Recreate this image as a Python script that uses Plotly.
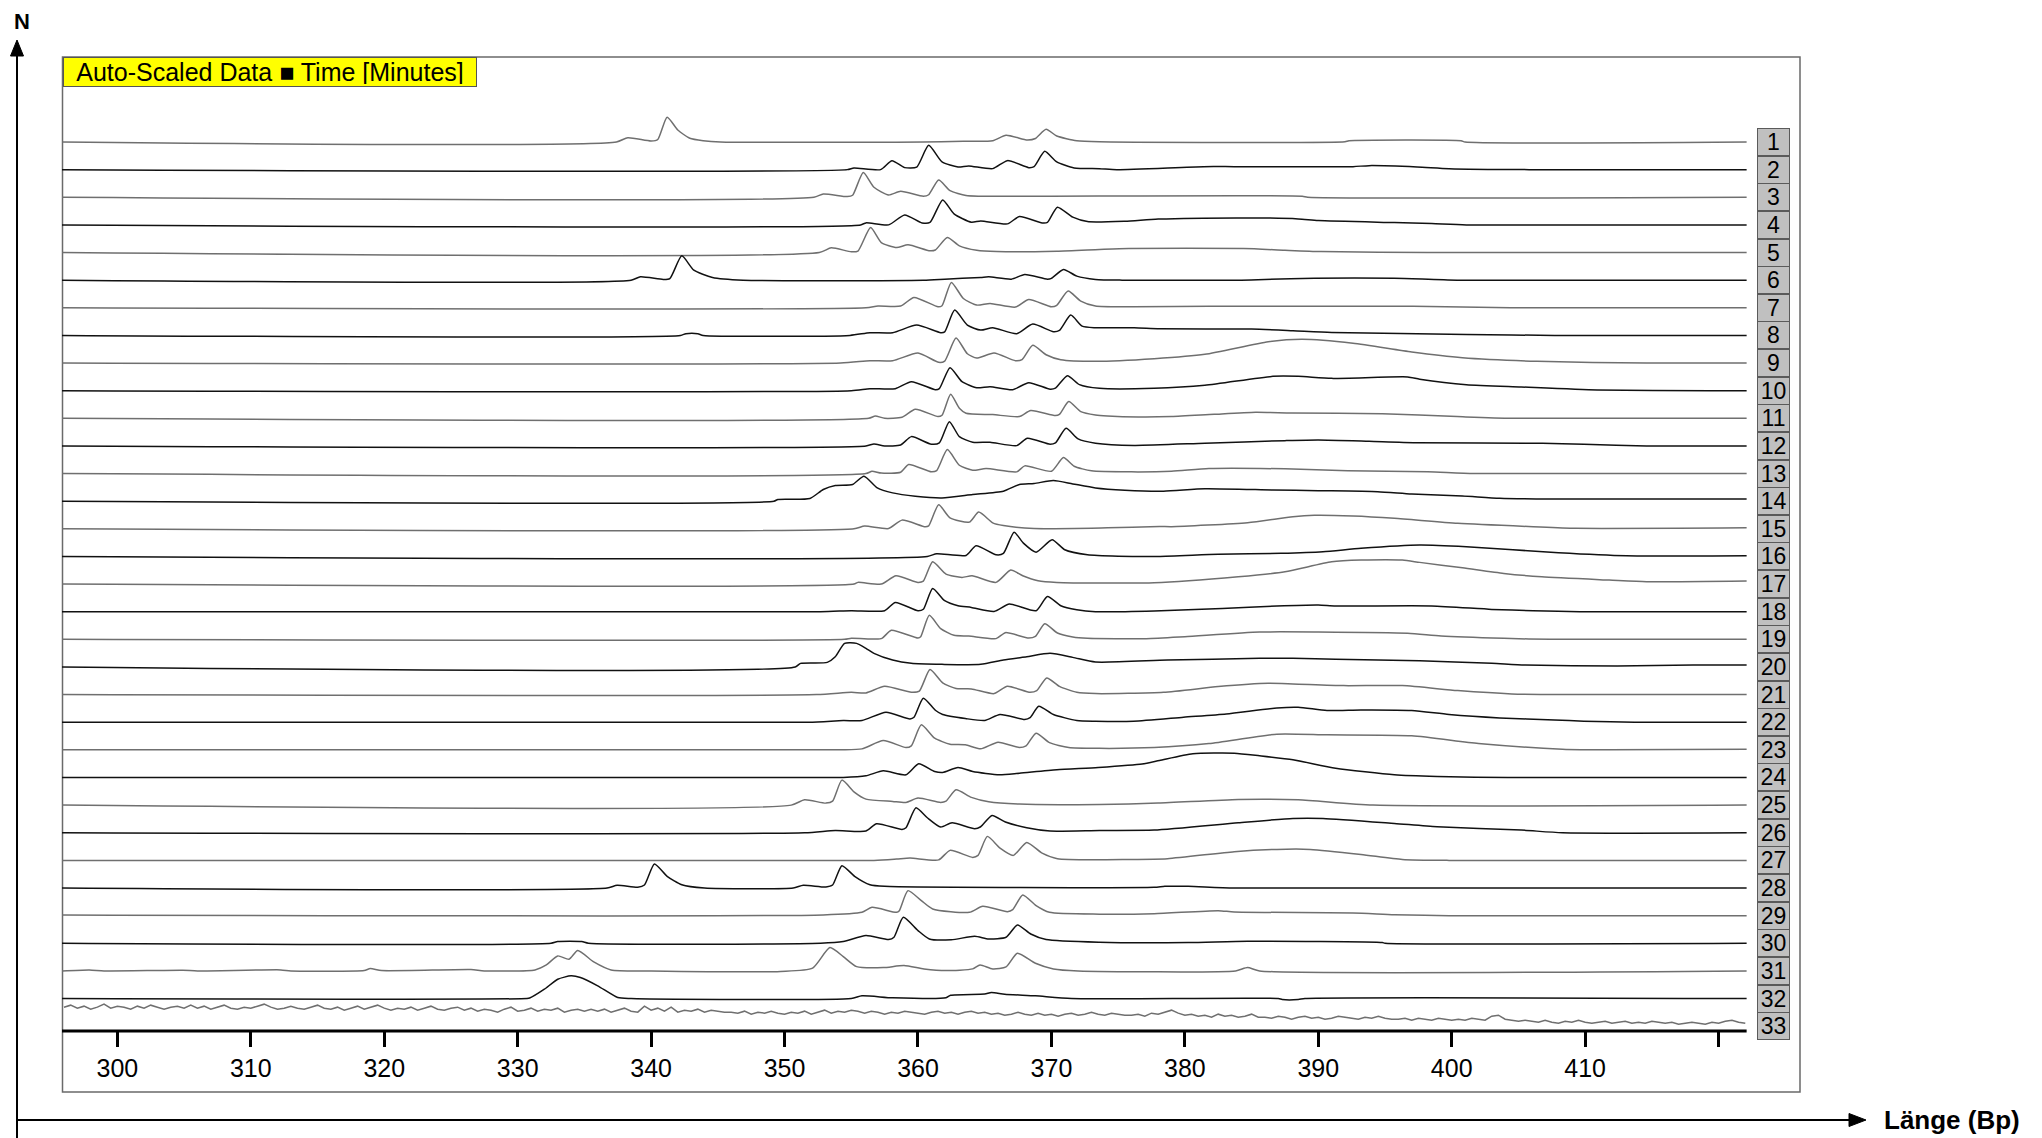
import plotly.graph_objects as go

# ---------------- data ----------------
# x: fragment length in bp ; second value: relative signal (auto-scaled units)
X_RANGE = [295.85, 426.1]
TRACE_END = 422.1
TICK_VALUES = [300, 310, 320, 330, 340, 350, 360, 370, 380, 390, 400, 410, 420]
TICK_LABELS = ["300", "310", "320", "330", "340", "350", "360", "370", "380", "390", "400", "410", ""]
LANE_NAMES = [str(i) for i in range(1, 34)]

LANE_01 = [(295.85,0),(337.4,0),(338.25,4.3),(340.0,1.0),(340.5,2.5),(341.2,24.7),(342.0,12),(342.9,3.7),(343.9,1.3),(345.2,0),(360.4,0),(363.4,0.7),(365.6,1.2),(366.6,6.7),(368.2,2),(368.8,3.5),(369.6,12.7),(370.4,6),(371.9,1.3),(373.6,0.3),(392.0,0.3),(392.3,1.3),(400.7,1.3),(401.0,0),(422.1,0)]
LANE_02 = [(295.85,0),(354.7,0),(355.2,1.7),(357.2,0),(358.05,9),(359.0,2),(359.9,2.5),(360.8,24.3),(361.8,7.7),(363.0,2.7),(363.8,3.7),(365.6,1),(366.7,9),(368.3,2),(368.7,3),(369.5,18.3),(370.4,7.7),(371.7,1.7),(373.6,1),(374.9,0),(381.4,3),(383.7,3),(392.6,3),(393.8,4),(397.4,2.7),(399.8,1),(405.8,0),(422.1,0)]
LANE_03 = [(295.85,0),(352.2,0),(352.9,3.3),(354.7,0.7),(355.1,2),(355.9,24.7),(356.7,10),(357.8,2.3),(358.7,6),(360.4,1),(360.8,2.5),(361.55,17.3),(362.4,6.7),(363.6,1.7),(364.7,1),(388.8,1),(389.2,0),(422.1,0)]
LANE_04 = [(295.85,0),(355.7,0),(356.1,2),(357.8,0),(359.0,10),(360.3,2),(360.9,2.5),(361.85,25),(362.7,11),(364.0,2.7),(364.7,4),(366.7,1),(367.6,8.3),(369.3,2),(369.7,2.5),(370.45,17.7),(371.6,7.7),(372.7,3.3),(375.5,3.7),(378.0,5.8),(384.4,7),(388.5,6),(390.0,4.3),(395.7,2.3),(398.5,1.3),(401.1,0),(422.1,0)]
LANE_05 = [(295.85,0),(352.6,0),(353.5,4.7),(355.0,0.7),(355.5,1.5),(356.45,25),(357.25,10),(358.4,5),(359.25,7.7),(360.9,1.7),(361.3,2.5),(362.2,15),(363.1,6.7),(364.4,2.3),(365.9,1),(370.4,1.3),(373.6,3),(375.8,4),(384.4,4),(387.5,2.3),(390.2,1),(398.2,0),(422.1,0)]
LANE_06 = [(295.85,0),(338.5,0),(339.2,3.3),(340.9,0.7),(341.4,1.5),(342.3,24.3),(343.2,10),(344.6,2.7),(346.9,0),(360.4,0),(362.0,1),(364.7,2.7),(365.3,3.3),(367.0,1),(368.0,5.7),(369.7,1),(370.0,1.8),(370.9,10.7),(371.9,4),(373.3,0.7),(375.3,0),(384.0,0),(386.0,0.7),(389.7,2),(395.7,2),(400.4,0),(422.1,0)]
LANE_07 = [(295.85,0),(356.1,0),(357.0,1.7),(358.7,1.7),(359.7,10.3),(361.5,1),(361.8,2),(362.5,25.3),(363.4,9.3),(364.4,2.7),(365.4,4.3),(367.3,0.7),(368.3,8.3),(370.0,1),(370.4,2.5),(371.25,16.7),(372.2,6.7),(373.3,1.7),(376.2,1),(381.8,1.5),(397.1,1.5),(404.4,0),(422.1,0)]
LANE_08 = [(295.85,0),(342.2,0),(342.6,1.7),(343.5,1.7),(343.9,0),(354.9,0),(356.4,2.7),(358.1,2.7),(359.9,10.3),(361.7,2.7),(362.0,3.5),(362.75,25.3),(363.7,10.3),(364.7,5.3),(365.6,7.7),(367.4,1.7),(368.6,11.3),(370.15,3.7),(370.6,5),(371.45,20.3),(372.3,9.3),(373.3,7.7),(376.2,7.7),(378.1,6.7),(385.0,6.3),(388.1,4.7),(391.0,3),(401.1,1),(407.7,0),(422.1,0)]
LANE_09 = [(295.85,0),(354.2,0),(356.4,2.3),(358.1,2.3),(360.0,10),(361.55,0.7),(362.0,2),(362.85,25),(363.7,9.3),(364.4,5),(365.7,10),(367.3,2.3),(367.8,3.5),(368.6,17.7),(369.6,8.3),(370.7,3.3),(373.3,1.7),(377.7,4.3),(381.5,8.7),(386.25,21.3),(388.8,23.7),(392.6,19.7),(397.0,11),(400.8,5.3),(406.4,1.7),(414.6,0),(422.1,0)]
LANE_10 = [(295.85,0),(355.0,0),(356.4,2),(358.3,2),(359.5,9),(361.3,1),(361.6,2),(362.4,23),(363.3,9),(364.4,3),(365.4,4),(367.1,1),(368.3,8),(369.9,1.5),(370.3,2.5),(371.2,15),(372.1,6),(373.6,2.3),(377.7,2.3),(381.5,5.3),(386.6,14.3),(388.5,14.3),(391.0,12.3),(396.7,13.7),(397.6,11.5),(401.1,6),(405.2,3.7),(410.9,0.7),(419.4,0),(422.1,0)]
LANE_11 = [(295.85,0),(356.3,0),(356.8,2.3),(357.5,0),(358.8,1),(359.8,9),(361.5,1.7),(361.8,3),(362.45,24),(363.1,10),(363.6,5),(365.6,3.7),(367.6,1.7),(368.45,7.7),(370.3,2.7),(370.6,4),(371.3,16.7),(372.2,6.7),(373.3,3.3),(374.2,2.3),(376.5,1.3),(379.0,1.7),(382.2,4),(385.3,6),(388.0,5.3),(394.8,4.5),(400.4,1.7),(404.5,0),(422.1,0)]
LANE_12 = [(295.85,0),(356.1,0),(356.7,2),(357.5,0),(358.7,1),(359.5,9.3),(361.0,1.7),(361.6,3),(362.35,24.3),(363.1,9.3),(364.1,3.7),(365.4,3.7),(367.4,0.3),(368.2,7.7),(369.9,1.7),(370.3,3),(371.1,17.7),(372.0,7),(373.3,2.7),(376.2,0.5),(381.5,2.7),(387.5,5.3),(390.0,6),(393.8,4.7),(397.3,3.3),(406.8,2.7),(409.9,1.7),(414.6,0),(422.1,0)]
LANE_13 = [(295.85,0),(356.1,0),(356.55,2.3),(357.25,0.5),(358.7,1.3),(359.3,9),(361.0,1.7),(361.4,3),(362.2,24),(363.1,8.3),(364.1,3.3),(365.1,5),(367.4,1.7),(368.0,7.7),(370.0,2.3),(370.9,16),(371.7,7.3),(373.0,2.7),(376.0,1.7),(379.0,2.3),(381.8,5),(387.5,4.7),(392.2,2.7),(398.2,1.7),(401.7,0),(422.1,0)]
LANE_14 = [(295.85,0),(349.2,0),(349.5,1.7),(351.9,2.7),(352.9,11.7),(353.8,15.7),(355.1,16.7),(355.95,25),(356.95,13.3),(358.1,8.3),(359.8,5),(361.8,3.3),(364.1,6.7),(366.4,10),(367.6,16.7),(368.7,17.7),(370.15,20.7),(371.6,17.3),(373.3,13.3),(375.5,11),(378.4,10),(381.5,12.5),(386.6,11.2),(390.0,10.5),(394.45,9.5),(397.0,7.2),(400.8,5.2),(403.6,2.9),(407.4,2.2),(422.1,2.2)]
LANE_15 = [(295.85,0),(355.2,0),(356.0,2.7),(357.8,0.3),(358.8,8.7),(360.55,2),(360.8,3),(361.55,24),(362.4,11),(363.85,6.7),(364.55,16.7),(365.6,6),(366.4,3.3),(368.7,0.3),(374.2,1),(378.1,2.3),(379.0,2.1),(384.7,6.1),(388.1,12.1),(389.7,13.5),(392.6,12.8),(395.7,10.5),(400.45,5.5),(406.1,2.1),(409.3,0.5),(422.1,1)]
LANE_16 = [(295.85,0),(360.7,0),(361.4,2.7),(363.6,1),(364.35,10.7),(365.85,1.7),(366.4,3),(367.2,24.3),(367.9,13.3),(368.85,4.3),(370.05,16.7),(371.0,6.7),(372.7,1.7),(375.0,0.3),(378.0,0),(382.5,2.1),(387.2,3.1),(390.35,4.7),(393.2,8.1),(397.6,11.4),(401.1,9.7),(408.0,3.7),(413.1,0.7),(422.1,0.7)]
LANE_17 = [(295.85,0),(355.2,0),(355.5,1.7),(357.25,0),(358.35,8.3),(360.0,1.7),(360.4,3),(361.1,22.3),(362.1,10),(363.3,6.7),(364.05,8.3),(365.85,1.7),(366.95,14),(367.85,8.3),(369.0,3.3),(370.4,1.7),(377.7,1.3),(384.0,7.3),(387.5,12.3),(391.0,22.3),(393.2,24),(396.3,24),(397.6,21.7),(400.8,16.3),(403.9,10.7),(406.75,7.3),(411.8,4),(414.6,2.3),(422.1,3)]
LANE_18 = [(295.85,0),(352.7,0),(355.0,1),(357.5,1),(358.3,9.3),(360.0,1),(360.4,2.5),(361.1,23.3),(362.0,11),(363.0,6),(364.0,4.3),(365.7,0.3),(366.85,7.7),(368.85,1),(369.7,15.3),(370.7,6),(371.9,2),(373.3,0),(377.7,0.7),(382.8,3.3),(386.9,5.7),(390.0,6.7),(391.3,5.7),(398.5,5.7),(403.0,2.3),(406.1,1),(409.6,0),(422.1,0)]
LANE_19 = [(295.85,0),(354.5,0),(355.0,1),(356.8,0.3),(357.3,1),(358.0,9),(360.0,1.3),(360.2,2.5),(360.85,24),(361.7,10.7),(362.7,4),(363.8,3.3),(365.85,0.7),(366.55,6.7),(368.3,1.3),(368.8,3),(369.5,15.7),(370.45,6.3),(371.6,2.3),(372.7,1),(377.1,0.7),(380.0,2.7),(385.6,7.3),(390.0,7.3),(396.7,6),(399.2,3.3),(403.9,1),(407.4,0),(422.1,0)]
LANE_20 = [(295.85,0),(350.8,0),(351.2,3.6),(353.2,4.6),(353.8,10.2),(354.5,23.6),(355.4,23.6),(356.1,18.6),(356.7,13.6),(358.1,6.9),(359.5,3.6),(361.8,2.6),(364.7,2.6),(366.4,6.9),(368.15,10.2),(369.9,13.6),(371.6,9.6),(373.3,5),(378.7,6.9),(385.6,8.6),(388.1,8.6),(391.3,7.6),(397.6,6.2),(403.0,3.6),(405.5,1.9),(412.4,0.9),(418.1,1.9),(422.1,1.9)]
LANE_21 = [(295.85,0),(352.4,0),(355.0,2.3),(356.1,1.7),(357.5,8.3),(359.5,2.3),(360.1,3.5),(360.9,25),(361.85,11.7),(362.85,6),(364.0,5.7),(365.7,1),(366.7,8.3),(368.4,2.3),(368.9,4),(369.65,16.7),(370.6,8.3),(371.9,2.3),(373.3,1),(378.4,2.3),(382.5,8),(386.25,11.3),(388.1,10.7),(391.9,9),(396.3,9),(400.45,4),(404.5,0.7),(408.3,0),(422.1,0)]
LANE_22 = [(295.85,0),(351.8,0),(354.4,1.7),(355.8,1.7),(357.6,10),(359.4,3.3),(359.7,5),(360.4,24),(361.3,12),(361.85,7.7),(363.55,3.7),(365.0,1.7),(366.15,7.7),(368.0,2.7),(368.4,4.5),(369.05,16),(370.15,7.7),(371.9,1.7),(373.3,1),(376.15,1),(379.9,5),(383.1,8.3),(386.9,14.3),(388.5,15),(390.65,11.7),(393.2,12.3),(397.0,11.7),(399.8,7.7),(403.6,4.3),(407.7,2.3),(409.9,1),(413.7,0),(422.1,0)]
LANE_23 = [(295.85,0),(354.2,0),(355.8,1),(357.4,9.3),(359.1,2.3),(359.5,4),(360.25,25),(361.25,11.7),(362.4,5.7),(363.55,5),(364.7,1),(366.0,7.7),(367.6,2.3),(368.1,4),(368.85,16.7),(369.85,7.3),(371.3,2.3),(373.6,1.5),(377.7,2.3),(381.8,6.3),(386.9,15.7),(390.65,15),(397.0,14),(402.0,6.3),(408.3,0.7),(411.8,0),(422.1,0.7)]
LANE_24 = [(295.85,0),(354.4,0),(356.1,1.7),(357.4,6.7),(359.1,2.7),(360.05,13.7),(361.25,6),(361.85,5),(363.0,10),(364.1,6),(366.1,2.7),(367.6,4.3),(370.4,7.7),(373.5,10),(376.8,13.5),(378.1,17),(380.6,23.7),(383.7,24.3),(385.6,21.7),(388.1,17.7),(391.3,9.3),(395.7,2.7),(398.9,1),(404.2,0),(422.1,0)]
LANE_25 = [(295.85,0),(350.5,0),(351.5,5.3),(353.1,2),(353.6,4),(354.3,25),(355.25,12.7),(356.1,6),(358.1,3.7),(359.1,2.7),(360.0,7),(361.7,2.7),(362.1,4),(362.85,15.3),(364.0,7.7),(365.3,3.3),(367.6,1),(373.6,0.7),(378.0,2),(384.0,5.7),(388.5,5.3),(394.1,0),(422.1,0)]
LANE_26 = [(295.85,0),(351.5,0),(353.8,2.3),(356.1,1.7),(356.9,9),(358.8,3.3),(359.1,5),(359.85,25),(360.7,15),(361.7,5.7),(362.55,10),(364.25,4),(364.7,6),(365.55,17.3),(366.55,10.7),(368.15,5),(369.9,1.7),(373.6,2.3),(377.7,2.7),(384.0,10),(388.1,14.3),(390.35,14.3),(395.7,9.3),(398.9,6),(405.2,2.7),(408.3,0),(422.1,0)]
LANE_27 = [(295.85,0),(356.7,0),(358.4,1.3),(359.4,2.3),(361.55,0.5),(362.4,10),(364.1,3),(364.5,5),(365.2,24),(366.15,12.3),(367.15,5),(368.15,18),(369.3,7.3),(370.45,1.7),(376.0,1),(378.7,1.7),(383.7,8.7),(386.9,11),(389.4,11),(393.2,6),(396.3,1),(399.8,0),(422.1,0)]
LANE_28 = [(295.85,0),(336.7,0),(337.45,2.7),(339.0,0.7),(339.5,3),(340.25,24),(341.2,11.7),(342.3,3.3),(344.0,0),(350.65,0),(351.4,2.7),(353.1,1),(353.6,3),(354.3,22.3),(355.25,11.7),(356.4,3.3),(357.5,1.7),(377.7,0.7),(378.5,1.7),(380.25,1.7),(383.7,0),(422.1,0)]
LANE_29 = [(295.85,0.7),(352.9,0.7),(355.8,3.3),(356.55,8.3),(358.4,3.3),(358.6,5),(359.25,25),(360.25,15),(361.1,6.7),(363.85,3.3),(364.85,9.3),(366.7,4),(367.1,6),(367.85,20.7),(368.85,10),(369.85,3.3),(373.6,1.5),(377.7,2),(382.5,5),(383.7,3.7),(392.6,2.7),(395.7,1),(399.8,0),(422.1,0)]
LANE_30 = [(295.85,0),(332.5,0),(333.0,1.7),(334.8,1.7),(335.3,0),(352.7,0),(354.4,1.7),(356.1,7.7),(357.8,3.7),(358.2,6),(358.9,26),(360.0,12.7),(360.85,4.3),(362.5,3.5),(364.25,7),(365.3,4.3),(366.6,6),(367.45,18.3),(368.45,9.3),(369.6,3.7),(373.6,1),(380.25,0.7),(384.7,2),(394.8,0.7),(395.0,0),(422.1,0)]
LANE_31 = [(295.85,0),(297.9,1),(299.0,0),(304.9,0.7),(306.0,0),(312.25,1),(313.0,0),(318.5,0.5),(318.95,2.3),(319.8,0.3),(326.5,1.3),(327.5,0),(331.3,1),(332.15,6),(333.0,15),(333.85,11.7),(334.5,20.3),(335.7,9),(337.0,1),(340.0,0),(349.7,-0.5),(352.1,2.7),(353.4,23.3),(354.4,14.3),(355.4,4.3),(357.4,3.3),(358.95,5.3),(360.45,2),(362.1,0.3),(364.1,2),(364.65,6),(365.6,2),(366.6,4),(367.45,17.7),(368.8,7.7),(370.15,2),(372.0,0),(383.8,0),(384.7,3.3),(385.6,0),(422.1,0)]
LANE_32 = [(295.85,0),(330.7,0),(330.9,0.5),(332.0,9.3),(333.0,19.3),(334.0,22.7),(334.7,21),(336.0,12.7),(337.5,1),(338.5,0),(355.0,0),(355.8,2.7),(358.1,0.7),(362.1,0.7),(362.45,3.3),(365.0,4.5),(365.5,6),(366.5,4.3),(368.8,2.7),(371.5,0),(387.0,0),(387.3,-1),(388.5,-1),(389.0,0),(422.1,0)]
# lane 33: noisy, slowly drifting trace, read every 0.5 bp from 296 bp
LANE_33_SIG = [
    19,21,18,20,17,19,22,18,20,19,17,20,18,21,19,17,19,20,18,21,
    18,20,17,19,21,18,17,19,18,20,22,19,17,18,20,18,17,19,21,18,
    17,19,16,18,20,17,19,21,18,16,18,17,19,16,18,20,17,16,18,19,
    16,18,15,17,16,14,17,19,15,16,18,15,17,16,18,14,16,17,15,17,
    15,17,14,16,18,15,14,20,16,18,15,19,14,16,15,17,14,16,15,14,
    14,13,15,12,14,13,15,13,12,14,13,15,12,14,16,13,15,14,16,15,
    13,15,14,12,14,13,15,14,13,12,14,15,13,14,12,14,15,13,14,12,
    13,11,12,14,12,11,13,11,12,10,12,13,11,12,14,12,11,13,12,11,
    11,12,10,13,12,14,16,13,11,12,10,11,9,12,10,11,9,10,12,9,
    9,8,10,9,7,9,10,8,9,7,8,10,9,8,7,9,8,10,8,7,
    7,8,6,8,7,6,8,7,6,7,6,8,7,6,10,11,7,6,5,6,
    5,4,6,4,3,5,4,6,4,3,4,5,3,4,5,3,4,3,5,4,
    3,4,2,3,4,3,2,4,3,5,6,4,3]
LANE_33_BP = [296 + 0.5 * k for k in range(len(LANE_33_SIG))]
LANE_33 = list(zip(LANE_33_BP, LANE_33_SIG))

LANES = [LANE_01, LANE_02, LANE_03, LANE_04, LANE_05, LANE_06, LANE_07, LANE_08, LANE_09, LANE_10,
         LANE_11, LANE_12, LANE_13, LANE_14, LANE_15, LANE_16, LANE_17, LANE_18, LANE_19, LANE_20,
         LANE_21, LANE_22, LANE_23, LANE_24, LANE_25, LANE_26, LANE_27, LANE_28, LANE_29, LANE_30,
         LANE_31, LANE_32, LANE_33]

# ---------------- layout / style ----------------
PAGE_OFF = 8                      # the page body margin shifts the figure by 8 px
W, H = 2042 - PAGE_OFF, 1138 - PAGE_OFF
PLOT_L, PLOT_R, PLOT_T, PLOT_B = 62, 1800, 57, 1031   # plot area in window pixels
ML, MT = PLOT_L - PAGE_OFF, PLOT_T - PAGE_OFF
MR, MB = W - (PLOT_R - PAGE_OFF), H - (PLOT_B - PAGE_OFF)
PW, PH = PLOT_R - PLOT_L, PLOT_B - PLOT_T
STEP = 27.63          # vertical stacking offset between lanes
TOP_BASE = 889.0      # baseline of lane 1 above the x axis
FONT = "Liberation Sans, Arial, sans-serif"
GRAY = "#6f6f6f"
BLACK = "#111111"


def px(xp):
    return (xp - PLOT_L) / PW


def py(yp):
    return (PLOT_B - yp) / PH


fig = go.Figure()
for i, lane in enumerate(LANES):
    xs = [p[0] for p in lane]
    ys = [TOP_BASE - i * STEP + p[1] for p in lane]
    color = GRAY if i % 2 == 0 else BLACK
    shape = "linear" if i == 32 else "spline"
    fig.add_trace(go.Scatter(x=xs, y=ys, mode="lines", hoverinfo="skip", showlegend=False,
                             line=dict(color=color, width=1.5, shape=shape, smoothing=0.6)))

shapes = []
# outer frame
shapes.append(dict(type="rect", xref="paper", yref="paper", x0=px(62.5), x1=px(1800), y0=py(1092), y1=py(57),
                   line=dict(color="#6a6a6a", width=1.5), layer="below"))
# thick base axis line under the lanes
shapes.append(dict(type="line", xref="x", yref="paper", x0=X_RANGE[0], x1=TRACE_END, y0=0, y1=0,
                   line=dict(color="black", width=3)))
# outer N axis (vertical arrow)
shapes.append(dict(type="line", xref="paper", yref="paper", x0=px(17), x1=px(17), y0=py(1140), y1=py(52),
                   line=dict(color="black", width=2)))
shapes.append(dict(type="path", xref="paper", yref="paper",
                   path=f"M {px(17)},{py(40)} L {px(10.5)},{py(56)} L {px(23.5)},{py(56)} Z",
                   fillcolor="black", line=dict(color="black", width=1)))
# outer length axis (horizontal arrow)
shapes.append(dict(type="line", xref="paper", yref="paper", x0=px(17), x1=px(1852), y0=py(1120), y1=py(1120),
                   line=dict(color="black", width=2)))
shapes.append(dict(type="path", xref="paper", yref="paper",
                   path=f"M {px(1866)},{py(1120)} L {px(1849)},{py(1113.5)} L {px(1849)},{py(1126.5)} Z",
                   fillcolor="black", line=dict(color="black", width=1)))

annotations = []
annotations.append(dict(xref="paper", yref="paper", x=px(62.5), y=py(57), xanchor="left", yanchor="top",
                        text="Auto-Scaled Data \u25a0 Time [Minutes]", showarrow=False,
                        bgcolor="#ffff00", bordercolor="#555555", borderwidth=1, borderpad=2,
                        width=408, height=24, font=dict(family=FONT, size=25, color="black")))
for i, name in enumerate(LANE_NAMES):
    annotations.append(dict(xref="paper", yref="y", x=px(1773.5), y=TOP_BASE - i * STEP,
                            xanchor="center", yanchor="middle", text=name, showarrow=False,
                            bgcolor="#c0c0c0", bordercolor="#5a5a5a", borderwidth=1, borderpad=0,
                            width=31, height=25.6, font=dict(family=FONT, size=23, color="black")))
annotations.append(dict(xref="paper", yref="paper", x=px(22), y=py(PAGE_OFF), xanchor="center", yanchor="top",
                        text="<b>N</b>", showarrow=False, borderpad=0,
                        font=dict(family=FONT, size=22, color="black")))
annotations.append(dict(xref="paper", yref="paper", x=px(1882), y=py(1120), xanchor="left", yanchor="middle",
                        text="<b>Länge (Bp)</b>", showarrow=False, font=dict(family=FONT, size=26, color="black")))

fig.update_layout(
    width=W, height=H, autosize=False,
    margin=dict(l=ML, r=MR, t=MT, b=MB, pad=0),
    paper_bgcolor="white", plot_bgcolor="white",
    showlegend=False, shapes=shapes, annotations=annotations,
    xaxis=dict(range=X_RANGE, showgrid=False, zeroline=False, showline=False,
               ticks="outside", ticklen=15, tickwidth=3, tickcolor="black",
               tickvals=TICK_VALUES, ticktext=TICK_LABELS,
               tickfont=dict(family=FONT, size=25, color="black"), fixedrange=True),
    yaxis=dict(range=[0, PH], visible=False, fixedrange=True),
)

fig.write_html("out.html")
